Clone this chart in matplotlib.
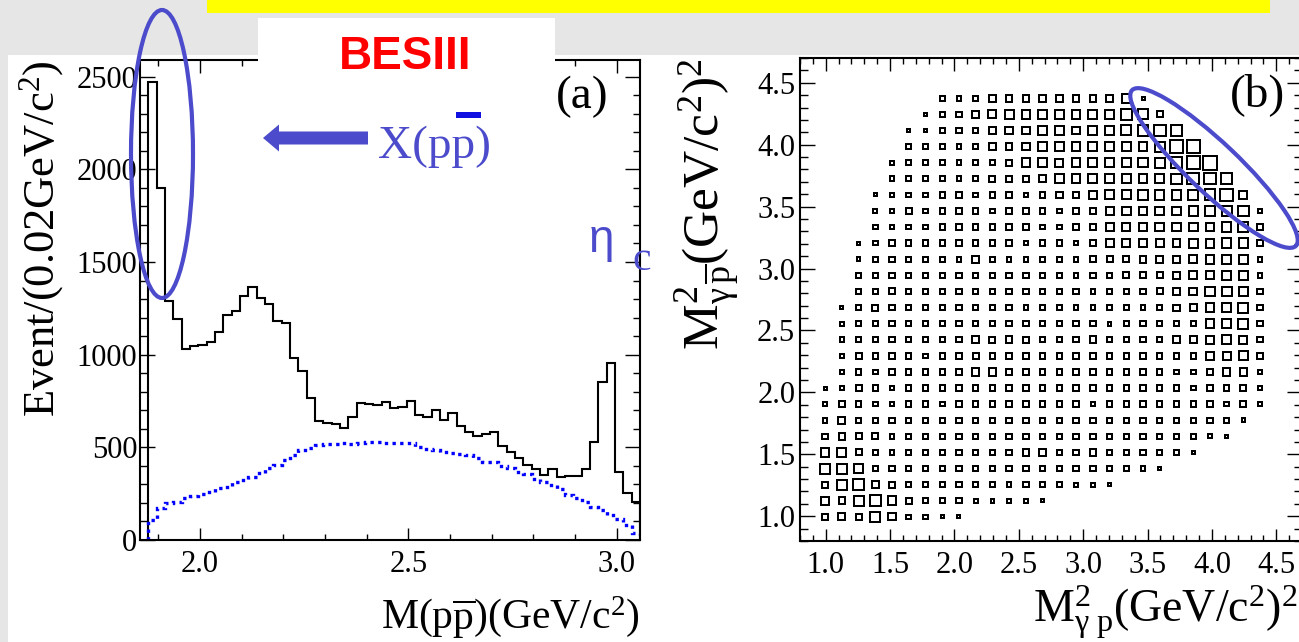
import numpy as np
import matplotlib
matplotlib.use("Agg")
import matplotlib.pyplot as plt
import matplotlib.transforms as mtransforms
from matplotlib.patches import Rectangle, Ellipse, Polygon
from matplotlib.collections import PatchCollection

# ---------------- M(p pbar) spectrum: 0.02 GeV bins from threshold ----------------
mass_lo = 1.876
mass_bw = 0.02
data_counts = [2470, 1900, 1291, 1192, 1030, 1045, 1052, 1068, 1124, 1214,
               1237, 1316, 1363, 1307, 1276, 1181, 1169, 980, 913, 768,
               644, 629, 626, 606, 662, 737, 732, 728, 744, 712,
               719, 750, 674, 665, 701, 647, 683, 617, 581, 563,
               570, 583, 507, 475, 442, 405, 381, 351, 381, 338,
               345, 345, 383, 527, 850, 953, 365, 252, 207]
phsp_counts = [108, 172, 198, 207, 225, 237, 248, 261, 279, 288,
               315, 324, 342, 360, 387, 405, 432, 458, 485, 494,
               512, 516, 518, 521, 518, 521, 528, 528, 525, 525,
               525, 525, 503, 489, 485, 476, 470, 464, 458, 440,
               422, 419, 399, 387, 369, 356, 327, 315, 297, 273,
               243, 225, 207, 180, 162, 135, 111, 81, 36]
mass_xticks = [2.0, 2.5, 3.0]
count_yticks = [0, 500, 1000, 1500, 2000, 2500]

# ---------------- Dalitz plot: 0.13 GeV^2 cells starting at 0.8 ----------------
dalitz_lo = 0.8
dalitz_bw = 0.13
# first occupied column of each row (row 1 is the lowest row)
row_first_col = [1, 1, 1, 1, 1, 1, 1, 1, 1, 2, 2, 2, 2, 2,
                 3, 3, 3, 3, 4, 4, 4, 5, 5, 6, 6, 7, 8]
row_counts = [
    [16, 20, 13, 39, 20, 7, 7, 3, 3],
    [24, 16, 44, 51, 31, 13, 10, 10, 10, 5, 5, 5, 5, 3],
    [13, 44, 51, 20, 13, 10, 7, 10, 10, 10, 10, 7, 10, 10, 7, 5, 5, 3],
    [44, 44, 31, 10, 10, 10, 10, 10, 10, 7, 10, 10, 10, 10, 10, 10, 10, 10, 7, 7, 3],
    [31, 31, 13, 10, 7, 10, 7, 10, 10, 10, 10, 10, 16, 16, 10, 10, 16, 10, 10, 10, 10, 7, 3],
    [10, 16, 13, 13, 7, 10, 10, 10, 10, 10, 10, 10, 10, 10, 10, 10, 10, 10, 10, 10, 10, 10, 7, 5, 3],
    [7, 20, 7, 10, 10, 7, 10, 10, 10, 10, 10, 10, 10, 10, 10, 10, 10, 10, 10, 10, 10, 10, 7, 10, 7, 5],
    [5, 16, 10, 7, 7, 10, 10, 7, 10, 10, 10, 10, 10, 10, 10, 10, 7, 10, 10, 10, 10, 10, 10, 10, 7, 13, 7],
    [3, 7, 13, 10, 7, 10, 10, 10, 10, 10, 10, 10, 10, 10, 10, 10, 10, 10, 10, 10, 10, 10, 7, 10, 10, 13, 5],
    [7, 10, 7, 10, 10, 10, 10, 10, 20, 20, 10, 10, 10, 10, 10, 10, 10, 10, 10, 10, 7, 7, 10, 20, 20, 7],
    [7, 13, 10, 10, 10, 7, 10, 10, 13, 10, 10, 10, 10, 10, 10, 10, 10, 10, 10, 10, 10, 10, 24, 24, 31, 10],
    [7, 10, 10, 10, 10, 10, 10, 10, 20, 13, 16, 13, 10, 10, 10, 16, 10, 10, 10, 10, 16, 16, 24, 36, 24, 10],
    [5, 10, 10, 10, 10, 7, 10, 10, 10, 10, 10, 10, 10, 7, 10, 10, 5, 10, 10, 10, 10, 10, 31, 31, 44, 10],
    [3, 10, 13, 10, 7, 7, 10, 10, 10, 10, 10, 7, 10, 7, 7, 7, 10, 7, 7, 10, 13, 16, 31, 31, 44, 10],
    [10, 7, 13, 7, 7, 10, 10, 7, 10, 10, 10, 10, 10, 10, 7, 10, 10, 10, 13, 20, 24, 36, 40, 40, 10],
    [7, 7, 10, 10, 10, 10, 10, 10, 10, 10, 10, 7, 10, 7, 10, 10, 13, 13, 13, 16, 24, 24, 31, 31, 7],
    [5, 10, 10, 10, 10, 7, 7, 16, 7, 7, 7, 7, 7, 7, 13, 13, 13, 16, 16, 16, 24, 31, 36, 36, 7],
    [3, 7, 13, 10, 10, 10, 10, 10, 10, 10, 7, 10, 10, 7, 10, 24, 24, 24, 24, 24, 31, 31, 36, 36, 13],
    [7, 7, 7, 7, 10, 10, 10, 10, 10, 10, 7, 7, 16, 16, 24, 24, 24, 31, 31, 31, 31, 36, 44, 16],
    [5, 7, 13, 7, 10, 10, 10, 7, 10, 10, 10, 7, 13, 13, 24, 31, 31, 31, 31, 36, 36, 44, 51, 5],
    [3, 7, 7, 7, 10, 10, 7, 10, 10, 7, 10, 16, 16, 24, 31, 31, 36, 36, 36, 44, 51, 79, 24],
    [7, 7, 10, 10, 7, 7, 13, 13, 13, 16, 31, 31, 31, 31, 31, 31, 36, 44, 61, 61, 51],
    [5, 7, 10, 7, 7, 10, 10, 13, 31, 31, 24, 31, 31, 31, 31, 36, 44, 61, 79, 100],
    [7, 7, 7, 7, 10, 16, 16, 20, 31, 31, 31, 31, 31, 31, 31, 44, 79, 87],
    [3, 5, 10, 10, 10, 16, 24, 24, 31, 31, 24, 31, 36, 44, 51, 61, 61],
    [3, 7, 10, 16, 24, 31, 31, 31, 31, 31, 31, 36, 51, 44, 13],
    [7, 7, 10, 16, 16, 16, 16, 16, 16, 16, 16, 31, 3],
]
dalitz_ticks = [1.0, 1.5, 2.0, 2.5, 3.0, 3.5, 4.0, 4.5]

# ---------------- figure in pixel units ----------------
W, H = 1299, 642
plt.rcParams.update({
    "font.family": "Liberation Serif",
    "mathtext.fontset": "custom",
    "mathtext.rm": "Liberation Serif",
    "mathtext.it": "Liberation Serif:italic",
    "mathtext.bf": "Liberation Serif:bold",
})
fig = plt.figure(figsize=(W / 100, H / 100), dpi=100, facecolor="#e6e6e6")
# image-style pixel coordinates: origin top-left, y downwards
px = mtransforms.Affine2D().scale(1, -1).translate(0, H).scale(1 / 100) + fig.dpi_scale_trans

BLUE_ANN = "#4b4bcc"

# white slide panel and yellow banner
fig.add_artist(Rectangle((8, 55), W - 8, H - 55, transform=px, fc="white", ec="none", zorder=-5))
fig.add_artist(Rectangle((207, 0), 1063, 13, transform=px, fc="#ffff00", ec="none", zorder=-4))


def axes_px(left, top, right, bottom):
    return fig.add_axes([left / W, 1 - bottom / H, (right - left) / W, (bottom - top) / H])


def style_frame(ax):
    for sp in ax.spines.values():
        sp.set_linewidth(1.5)
    ax.tick_params(which="both", direction="in", top=True, right=True, width=1.0,
                   labelsize=22)


# ---------------- panel (a) ----------------
ax1 = axes_px(140, 60, 640, 540)
edges = mass_lo + mass_bw * np.arange(len(data_counts) + 1)
ax1.stairs(data_counts, edges, color="black", lw=1.5, baseline=0)
ax1.stairs(phsp_counts, edges, color="#0000ff", lw=2.4, baseline=0,
           linestyle=(0, (1.0, 1.3)))
ax1.set_xlim(1.856, 3.056)
ax1.set_ylim(0, 2590)
ax1.set_xticks(mass_xticks)
ax1.set_xticklabels([f"{v:.1f}" for v in mass_xticks])
ax1.set_xticks(np.arange(1.9, 3.05, 0.1), minor=True)
ax1.set_yticks(count_yticks)
ax1.set_yticks(np.arange(0, 2590, 100), minor=True)
style_frame(ax1)
ax1.tick_params(axis="x", which="major", length=9, pad=7)
ax1.tick_params(axis="x", which="minor", length=4.5)
ax1.tick_params(axis="y", which="major", length=11, pad=2)
ax1.tick_params(axis="y", which="minor", length=5)

# ---------------- panel (b) ----------------
ax2 = axes_px(800, 58, 1302, 541)
ax2.set_xlim(0.8, 4.7)
ax2.set_ylim(0.8, 4.7)
px_per_x = (1302 - 800) / (4.7 - 0.8)
px_per_y = (541 - 58) / (4.7 - 0.8)
cell_px = dalitz_bw * px_per_x
box_lw_px = 2.0
cmax = max(max(r) for r in row_counts)
boxes = []
for j, (first, counts) in enumerate(zip(row_first_col, row_counts), start=1):
    yc = dalitz_lo + (j + 0.5) * dalitz_bw
    for k, c in enumerate(counts):
        i = first + k
        xc = dalitz_lo + (i + 0.5) * dalitz_bw
        outer = 0.95 * cell_px * (c / cmax) ** (1 / 3)
        side = max(outer - box_lw_px, 0.6)
        hx, hy = side / 2 / px_per_x, side / 2 / px_per_y
        boxes.append(Rectangle((xc - hx, yc - hy), 2 * hx, 2 * hy))
ax2.add_collection(PatchCollection(boxes, facecolor="none", edgecolor="black",
                                   linewidths=box_lw_px * 0.72, joinstyle="miter"))
ax2.set_xticks(dalitz_ticks)
ax2.set_yticks(dalitz_ticks)
ax2.set_xticklabels([f"{v:.1f}" for v in dalitz_ticks])
ax2.set_yticklabels([f"{v:.1f}" for v in dalitz_ticks])
ax2.set_xticks(np.arange(0.8, 4.71, 0.1), minor=True)
ax2.set_yticks(np.arange(0.8, 4.71, 0.1), minor=True)
style_frame(ax2)
ax2.tick_params(axis="x", which="major", length=9, pad=7)
ax2.tick_params(axis="x", which="minor", length=4)
ax2.tick_params(axis="y", which="major", length=11, pad=3.5)
ax2.tick_params(axis="y", which="minor", length=5.5)

# ---------------- axis titles ----------------
fig.text(42, 60, r"Event/(0.02GeV/c$^{2}$)", transform=px, rotation=90,
         ha="center", va="top", fontsize=32)
fig.text(640, 617, r"M(p$\overline{\mathrm{p}}$)(GeV/c$^{2}$)", transform=px,
         ha="right", va="center", fontsize=30)
fig.text(708, 58, r"$\mathrm{M}^{2}_{\mathrm{\gamma}\,\overline{\mathrm{p}}}$(GeV/c$^{2}$)$^{2}$",
         transform=px, rotation=90, ha="center", va="top", fontsize=37)
fig.text(1298, 612, r"$\mathrm{M}^{2}_{\mathrm{\gamma\ p}}$(GeV/c$^{2}$)$^{2}$",
         transform=px, ha="right", va="center", fontsize=33)
fig.text(582, 97, "(a)", transform=px, ha="center", va="center", fontsize=34)
fig.text(1257, 95, "(b)", transform=px, ha="center", va="center", fontsize=34)

# ---------------- annotations ----------------
fig.add_artist(Rectangle((258, 18), 297, 82, transform=px, fc="white", ec="none", zorder=3))
fig.text(405, 57, "BESIII", transform=px, ha="center", va="center", fontsize=33,
         family="Liberation Sans", weight="bold", color="#ff0000", zorder=4)
fig.add_artist(Polygon([(263, 138), (279, 124.5), (279, 131.5), (368, 131.5),
                        (368, 144.5), (279, 144.5), (279, 151.5)],
                       closed=True, transform=px, fc=BLUE_ANN, ec="none", zorder=4))
fig.text(378, 158, "X(pp)", transform=px, ha="left", va="baseline", fontsize=34,
         color=BLUE_ANN, zorder=4)
fig.add_artist(Rectangle((456, 112), 25, 6, transform=px, fc="#1010e0", ec="none", zorder=4))
fig.text(589, 252, "\u03b7", transform=px, ha="left", va="baseline", fontsize=33,
         family="Liberation Sans", color=BLUE_ANN, zorder=4)
fig.text(632, 270, "c", transform=px, ha="left", va="baseline", fontsize=30,
         color=BLUE_ANN, zorder=4)
fig.add_artist(Ellipse((162, 154), 62, 288, transform=px, fill=False, ec=BLUE_ANN,
                       lw=3.0, zorder=5))
fig.add_artist(Ellipse((1214, 168), 226, 50, angle=43.5, transform=px, fill=False,
                       ec=BLUE_ANN, lw=3.0, zorder=5))

fig.savefig("out.png", dpi=100, facecolor=fig.get_facecolor())
